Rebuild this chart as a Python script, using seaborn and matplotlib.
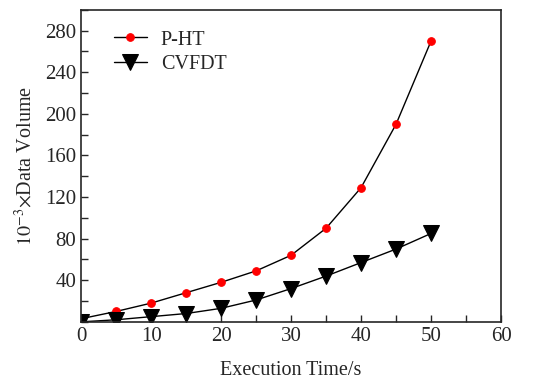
import numpy as np
import pandas as pd
import matplotlib
matplotlib.use('Agg')
import matplotlib.pyplot as plt
import seaborn as sns
from matplotlib.ticker import MultipleLocator

# ── Data ───────────────────────────────────────────────────────────────────
exec_time = [0, 5, 10, 15, 20, 25, 30, 35, 40, 45, 50]
pht_volume = [3, 10, 18, 28, 38, 49, 64, 90, 129, 190, 270]
cvfdt_volume = [0, 2, 5, 8, 13, 21, 32, 44, 57, 70, 85]

df = pd.DataFrame({'time': exec_time, 'P-HT': pht_volume, 'CVFDT': cvfdt_volume})

sns.set_style('ticks')
plt.rcParams['font.family'] = ['Liberation Serif', 'DejaVu Serif']
plt.rcParams['mathtext.fontset'] = 'stix'

fig = plt.figure(figsize=(5.44, 3.80), dpi=100)
ax = fig.add_axes([0.149, 0.153, 0.772, 0.821])

sns.lineplot(data=df, x='time', y='P-HT', ax=ax, color='black', linewidth=1,
             marker='o', markersize=5.5, markerfacecolor='red',
             markeredgecolor='red', label='P-HT')
sns.lineplot(data=df, x='time', y='CVFDT', ax=ax, color='black', linewidth=1,
             marker='v', markersize=11, markerfacecolor='black',
             markeredgecolor='black', label='CVFDT')

ax.set_xlim(0, 60)
ax.set_ylim(0, 300)
ax.xaxis.set_major_locator(MultipleLocator(10))
ax.xaxis.set_minor_locator(MultipleLocator(5))
ax.set_yticks([40, 80, 120, 160, 200, 240, 280])
ax.yaxis.set_minor_locator(MultipleLocator(20))
ax.tick_params(which='both', direction='in', top=False, right=False,
               labelsize=15, width=1, length=5)
for s in ax.spines.values():
    s.set_linewidth(1.2)

ax.set_xlabel('Execution Time/s', fontsize=14.5, labelpad=11)
ax.set_ylabel(r'$10^{-3}$$\times$Data Volume', fontsize=14.5, labelpad=6)

leg = ax.legend(loc='upper left', frameon=False, fontsize=14.5,
                bbox_to_anchor=(0.06, 0.96), handlelength=1.6,
                borderaxespad=0, labelspacing=0.25, handletextpad=0.7)

plt.savefig('out.png', dpi=100)
